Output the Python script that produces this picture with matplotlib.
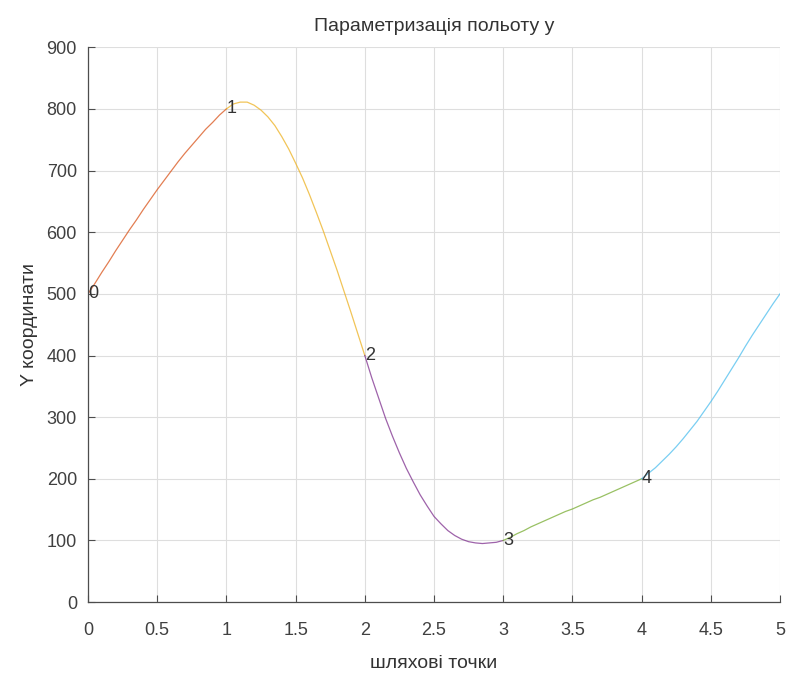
# параметризація польоту по y: шматки кривої між шляховими точками
import matplotlib
matplotlib.use('Agg')
import matplotlib.pyplot as plt
import numpy as np

plt.rcParams['font.family'] = ['Liberation Sans', 'DejaVu Sans']

# шляхові точки
waypoint_t = [0, 1, 2, 3, 4, 5]
waypoint_y = [500, 800, 400, 100, 200, 500]
waypoint_labels = ['0', '1', '2', '3', '4']

# значення кривої (крок 0.05 у кожному відрізку)
seg_t = np.arange(21) * 0.05
seg0 = [500, 517, 535, 552, 570, 587, 604, 620, 637, 653, 669,
        684, 699, 714, 728, 741, 754, 767, 778, 790, 800]
seg1 = [800, 808, 811, 811, 806, 798, 787, 773, 755, 735, 712,
        688, 661, 632, 602, 570, 538, 504, 470, 435, 400]
seg2 = [400, 364, 331, 298, 269, 242, 217, 195, 174, 156, 139,
        127, 116, 108, 102, 98, 96, 95, 96, 97, 100]
seg3 = [100, 105, 111, 116, 122, 127, 132, 137, 142, 147, 151,
        156, 161, 166, 170, 175, 180, 185, 190, 195, 200]
seg4 = [200, 209, 218, 229, 240, 252, 265, 279, 293, 309, 325,
        342, 360, 378, 396, 415, 433, 450, 467, 484, 500]
segments = [seg0, seg1, seg2, seg3, seg4]

seg_colors = [(0.85, 0.325, 0.098), (0.929, 0.694, 0.125),
              (0.494, 0.184, 0.556), (0.466, 0.674, 0.188),
              (0.301, 0.745, 0.933)]

x_ticks = [0, 0.5, 1, 1.5, 2, 2.5, 3, 3.5, 4, 4.5, 5]
x_ticklabels = ['0', '0.5', '1', '1.5', '2', '2.5', '3', '3.5', '4', '4.5', '5']
y_ticks = [0, 100, 200, 300, 400, 500, 600, 700, 800, 900]

fig = plt.figure(figsize=(7.93, 6.75), dpi=100)
ax = fig.add_axes([0.111, 0.108, 0.8726, 0.822])

for i, seg in enumerate(segments):
    t = seg_t + waypoint_t[i]
    ax.plot(t, seg, color=seg_colors[i], linewidth=0.9, alpha=0.75)

for i, lab in enumerate(waypoint_labels):
    ax.text(waypoint_t[i], waypoint_y[i], lab, fontsize=13, color='0.2',
            ha='left', va='center')

ax.set_xlim(0, 5)
ax.set_ylim(0, 900)
ax.set_xticks(x_ticks)
ax.set_xticklabels(x_ticklabels)
ax.set_yticks(y_ticks)
ax.grid(True, color='0.87', linewidth=0.8)
ax.set_axisbelow(True)

for s in ['top', 'right']:
    ax.spines[s].set_visible(False)
for s in ['left', 'bottom']:
    ax.spines[s].set_color('0.3')
    ax.spines[s].set_linewidth(0.9)
ax.tick_params(direction='in', length=5, colors='0.3', labelsize=13,
               labelcolor='0.25')
ax.tick_params(axis='x', pad=14)
ax.tick_params(axis='y', pad=8)

ax.set_title('Параметризація польоту y', fontsize=14, color='0.2', pad=12)
ax.set_xlabel('шляхові точки', fontsize=14, color='0.2', labelpad=12)
ax.set_ylabel('Y координати', fontsize=14, color='0.2', labelpad=6)

fig.savefig('out.png', dpi=100)
